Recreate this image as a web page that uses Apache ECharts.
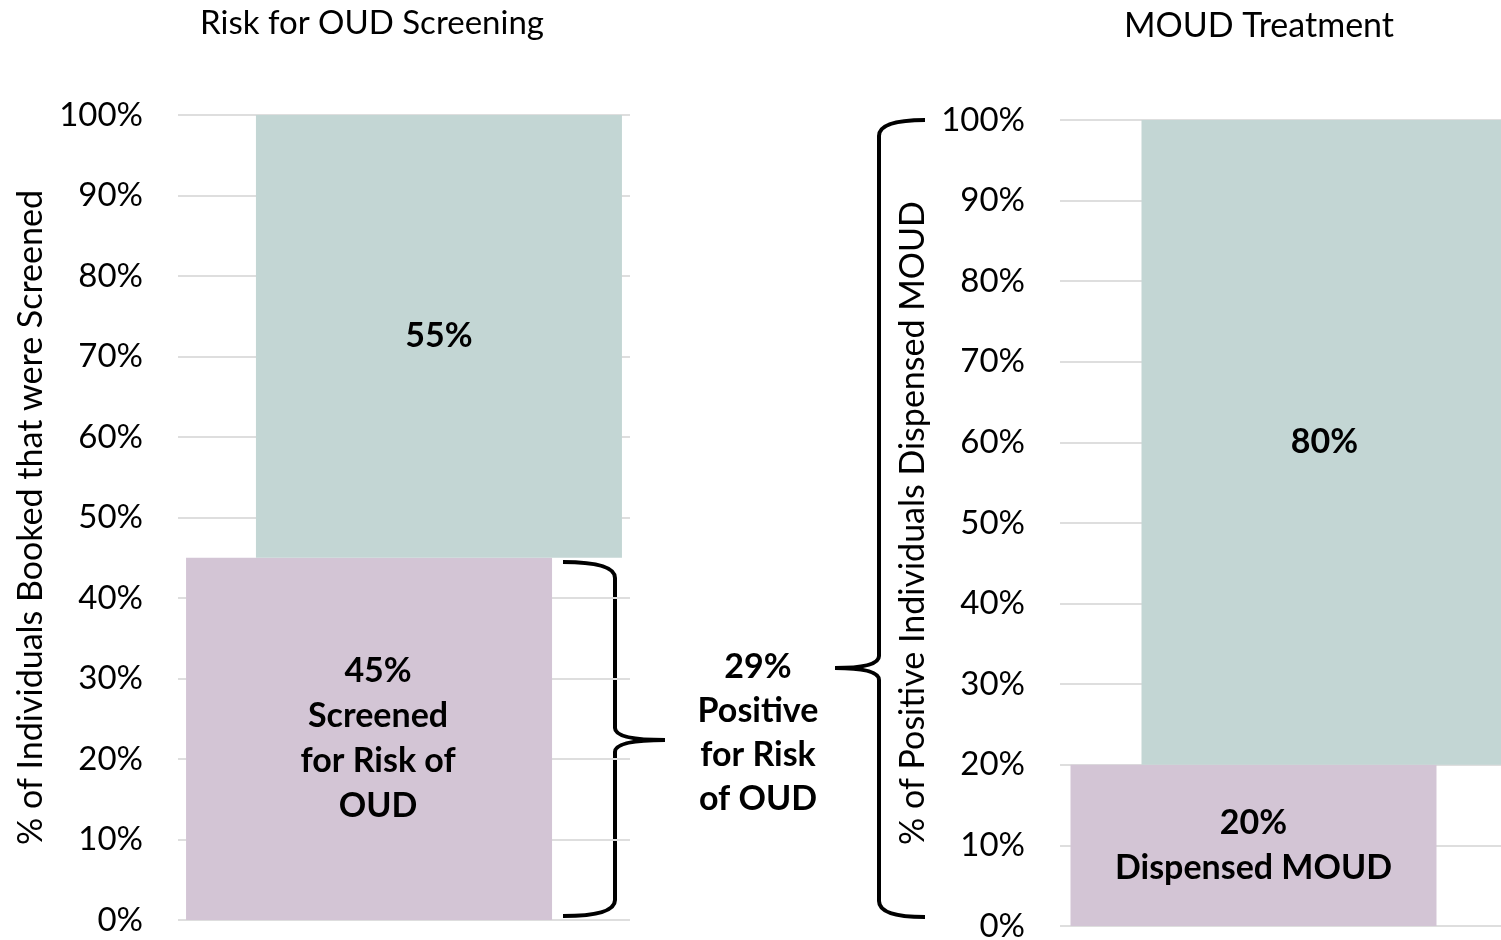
<!DOCTYPE html>
<html>
<head>
<meta charset="utf-8">
<script src="https://cdn.jsdelivr.net/npm/echarts@6/dist/echarts.min.js"></script>
<style>
  html, body { margin: 0; padding: 0; background: #fff; }
  #chart { width: 1501px; height: 940px; }
</style>
</head>
<body>
<div id="chart"></div>
<script>
  // screening panel
  var screenCats = ['Booked'];
  var screenedVals = [45];
  var notScreenedVals = [55];
  var screenedLabel = ['45%', 'Screened', 'for Risk of', 'OUD'];
  // treatment panel
  var treatCats = ['Positive'];
  var dispensedVals = [20];
  var notDispensedVals = [80];
  var dispensedLabel = ['20%', 'Dispensed MOUD'];
  var positiveLabel = ['29%', 'Positive', 'for Risk', 'of OUD'];

  var FONT = 'Lato, "Open Sans", sans-serif';
  var PURPLE = '#d3c5d5';
  var TEAL = '#c3d6d4';

  var myChart = echarts.init(document.getElementById('chart'));

  function yAxis(idx, nameTxt) {
    return {
      type: 'value', gridIndex: idx, min: 0, max: 100, interval: 10,
      name: nameTxt, nameLocation: 'middle', nameGap: 130,
      nameTextStyle: { fontFamily: FONT, fontSize: 34, color: '#000' },
      axisLine: { show: false }, axisTick: { show: false },
      axisLabel: { formatter: '{value}%', fontFamily: FONT, fontSize: 33, color: '#000', margin: 35 },
      splitLine: { lineStyle: { color: '#dedede', width: 2 } }
    };
  }
  function xAxis(idx, cats) {
    return {
      type: 'category', gridIndex: idx, data: cats,
      axisLine: { show: false }, axisTick: { show: false }, axisLabel: { show: false }
    };
  }
  function lbl(lines, dx) {
    return {
      show: true, position: 'inside', formatter: lines.join('\n'), offset: [dx || 0, 0],
      fontFamily: FONT, fontSize: 34, fontWeight: 'bold', color: '#000', lineHeight: 45
    };
  }

  // curly brace: ends at (ex, top/bottom), spine at sx, tip at (tx, ty)
  function brace(ex, sx, tx, top, ty, bottom) {
    var st = { stroke: '#000', lineWidth: 4, fill: null };
    return [
      { type: 'bezierCurve', shape: { x1: ex, y1: top, x2: sx, y2: top + 16, cpx1: sx, cpy1: top }, style: st },
      { type: 'line', shape: { x1: sx, y1: top + 16, x2: sx, y2: ty - 12 }, style: st },
      { type: 'bezierCurve', shape: { x1: sx, y1: ty - 12, x2: tx, y2: ty, cpx1: sx, cpy1: ty }, style: st },
      { type: 'bezierCurve', shape: { x1: tx, y1: ty, x2: sx, y2: ty + 12, cpx1: sx, cpy1: ty }, style: st },
      { type: 'line', shape: { x1: sx, y1: ty + 12, x2: sx, y2: bottom - 16 }, style: st },
      { type: 'bezierCurve', shape: { x1: sx, y1: bottom - 16, x2: ex, y2: bottom, cpx1: sx, cpy1: bottom }, style: st }
    ];
  }

  var graphics = brace(563, 615, 665, 562, 740, 916)
    .concat(brace(925, 879, 835, 120, 668, 917))
    .concat([{ type: 'text', x: 758, y: 733,
      style: { text: positiveLabel.join('\n'), align: 'center', verticalAlign: 'middle',
        font: 'bold 34px ' + FONT, fill: '#000', lineHeight: 44 } }]);

  myChart.setOption({
    animation: false,
    title: [
      { text: 'Risk for OUD Screening', left: 367, top: 2, textAlign: 'center',
        textStyle: { fontFamily: FONT, fontSize: 33, fontWeight: 'normal', color: '#000' } },
      { text: 'MOUD Treatment', left: 1254, top: 4, textAlign: 'center',
        textStyle: { fontFamily: FONT, fontSize: 34, fontWeight: 'normal', color: '#000' } }
    ],
    grid: [
      { left: 178, right: 871, top: 115, bottom: 20, outerBoundsMode: 'none' },
      { left: 1060, width: 458, top: 120, bottom: 14, outerBoundsMode: 'none' }
    ],
    xAxis: [xAxis(0, screenCats), xAxis(1, treatCats)],
    yAxis: [
      yAxis(0, '% of Individuals Booked that were Screened'),
      yAxis(1, '% of Positive Individuals Dispensed MOUD')
    ],
    series: [
      { type: 'bar', xAxisIndex: 0, yAxisIndex: 0, stack: 'a', data: screenedVals,
        barWidth: 366, barGap: '-80.9%', itemStyle: { color: PURPLE }, label: lbl(screenedLabel, 9) },
      { type: 'bar', xAxisIndex: 0, yAxisIndex: 0, stack: 'b', data: screenedVals,
        barWidth: 366, itemStyle: { color: 'rgba(0,0,0,0)' }, silent: true },
      { type: 'bar', xAxisIndex: 0, yAxisIndex: 0, stack: 'b', data: notScreenedVals,
        barWidth: 366, itemStyle: { color: TEAL }, label: lbl([notScreenedVals[0] + '%']) },

      { type: 'bar', xAxisIndex: 1, yAxisIndex: 1, stack: 'c', data: dispensedVals,
        barWidth: 366, barGap: '-80.6%', itemStyle: { color: PURPLE }, label: lbl(dispensedLabel) },
      { type: 'bar', xAxisIndex: 1, yAxisIndex: 1, stack: 'd', data: dispensedVals,
        barWidth: 366, itemStyle: { color: 'rgba(0,0,0,0)' }, silent: true },
      { type: 'bar', xAxisIndex: 1, yAxisIndex: 1, stack: 'd', data: notDispensedVals,
        barWidth: 366, itemStyle: { color: TEAL }, label: lbl([notDispensedVals[0] + '%']) }
    ],
    graphic: graphics
  });
</script>
</body>
</html>
